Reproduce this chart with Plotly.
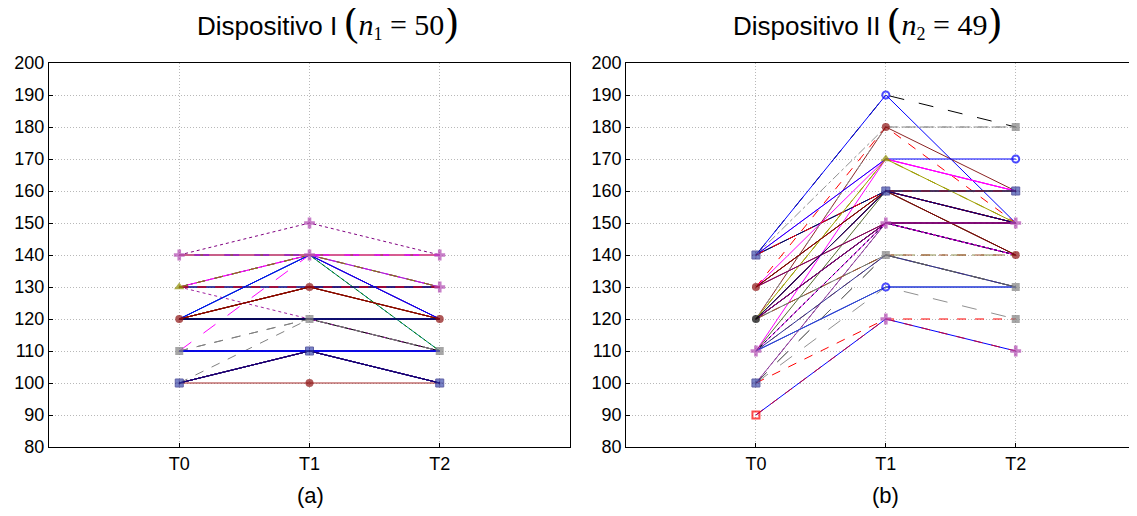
import plotly.graph_objects as go

# datos: categorias y valores de cada sujeto (T0, T1, T2)
categorias = ["T0", "T1", "T2"]

# Dispositivo I (n1 = 50)
izq_t0 = [100, 100, 100, 100, 100, 110, 110, 110, 110, 110,
          120, 120, 120, 120, 120, 120, 120, 130, 130, 130,
          130, 130, 130, 140, 140, 140, 140, 140, 100, 110,
          120, 120, 130, 140, 100, 110, 120, 130, 140, 120,
          110, 100, 120, 130, 140, 110, 120, 130, 140, 100]
izq_t1 = [100, 110, 110, 120, 110, 110, 110, 120, 140, 110,
          120, 120, 130, 140, 140, 120, 130, 130, 130, 140,
          140, 120, 140, 140, 150, 140, 140, 140, 110, 110,
          130, 120, 130, 140, 110, 110, 130, 140, 140, 140,
          120, 110, 120, 130, 140, 110, 130, 140, 140, 110]
izq_t2 = [100, 100, 100, 110, 110, 110, 110, 110, 130, 100,
          120, 120, 120, 120, 110, 110, 130, 130, 130, 140,
          130, 110, 110, 140, 140, 130, 140, 120, 100, 110,
          120, 120, 130, 140, 100, 110, 120, 140, 130, 120,
          110, 100, 120, 130, 140, 110, 120, 130, 140, 100]

# Dispositivo II (n2 = 49)
der_t0 = [140, 140, 140, 130, 120, 140, 140, 120, 110, 140,
          130, 120, 130, 120, 130, 120, 100, 110, 120, 120,
          110, 100, 110, 100, 100, 90, 90, 140, 120, 120,
          130, 120, 110, 100, 120, 130, 110, 120, 140, 120,
          130, 110, 100, 120, 110, 130, 120, 110, 120]
der_t1 = [190, 190, 180, 180, 180, 170, 170, 170, 170, 160,
          160, 160, 160, 160, 150, 150, 150, 150, 150, 140,
          140, 140, 130, 130, 120, 120, 120, 160, 140, 180,
          170, 160, 160, 150, 150, 160, 150, 140, 160, 170,
          150, 140, 140, 160, 150, 160, 150, 130, 160]
der_t2 = [180, 150, 180, 150, 160, 160, 170, 150, 160, 160,
          150, 140, 160, 150, 140, 150, 140, 150, 140, 140,
          130, 130, 130, 120, 120, 110, 110, 150, 130, 180,
          160, 150, 140, 140, 150, 160, 140, 140, 160, 150,
          150, 130, 130, 150, 140, 140, 150, 130, 160]

# estilos de linea (no son datos)
izq_color = ["#a52a2a", "#000080", "#0000ff", "#808080", "#8b0000", "#0000ff", "#808000", "#808080", "#ff00ff", "#000080",
             "#000000", "#0000ff", "#8b2500", "#0000ff", "#008080", "#000000", "#8b0000", "#ff0000", "#000080", "#ff00ff",
             "#808000", "#a020a0", "#008000", "#9932cc", "#800080", "#ff00ff", "#ff69b4", "#800080", "#0000ff", "#000080",
             "#8b2500", "#0000ff", "#000080", "#a020a0", "#000080", "#0000ff", "#8b2500", "#ff00ff", "#9932cc", "#0000ff",
             "#808080", "#a52a2a", "#000000", "#ff0000", "#808000", "#0000ff", "#8b0000", "#808000", "#ff69b4", "#000080"]
izq_dash = ["solid", "solid", "solid", "dash", "solid", "solid", "longdashdot", "dash", "longdash", "solid",
            "solid", "solid", "solid", "solid", "solid", "solid", "solid", "dash", "solid", "solid",
            "dash", "dot", "dot", "solid", "dot", "solid", "dash", "solid", "solid", "solid",
            "solid", "solid", "solid", "solid", "solid", "solid", "solid", "solid", "solid", "solid",
            "dash", "solid", "solid", "dash", "longdashdot", "solid", "solid", "dash", "longdash", "solid"]

der_color = ["#000000", "#0000ff", "#909090", "#ff0000", "#8b2323", "#ff00ff", "#0000ff", "#909000", "#ff00ff", "#000060",
             "#ff0000", "#a0104a", "#2e8b57", "#d00000", "#800030", "#800080", "#702070", "#702070", "#000000", "#909050",
             "#a0522d", "#909090", "#0000ff", "#909090", "#ff0000", "#0000ff", "#d00030", "#000060", "#707070", "#909090",
             "#ff00ff", "#b00000", "#556b2f", "#9040a0", "#600040", "#8b2323", "#ff00ff", "#a0522d", "#ff0000", "#a0a000",
             "#800060", "#303090", "#606060", "#000080", "#000040", "#800000", "#800080", "#3050c0", "#1a1a60"]
der_dash = ["longdash", "solid", "dashdot", "dash", "solid", "solid", "solid", "dash", "solid", "solid",
            "solid", "solid", "dashdot", "solid", "solid", "solid", "dot", "dot", "solid", "longdashdot",
            "dash", "longdash", "solid", "longdash", "dash", "solid", "dash", "solid", "solid", "dash",
            "solid", "solid", "solid", "solid", "solid", "solid", "solid", "dash", "dash", "solid",
            "solid", "solid", "longdash", "solid", "dot", "solid", "solid", "solid", "solid"]

# marcador visible en cada nivel de cada tiempo
izq_mk = [{140: "plus", 130: "tri", 120: "dred", 110: "gsq", 100: "sqx"},
          {150: "plus", 140: "plus", 130: "dred", 120: "gsq", 110: "sqx", 100: "dred"},
          {140: "plus", 130: "plus", 120: "dred", 110: "gsq", 100: "sqx"}]
der_mk = [{140: "sqx", 130: "dred", 120: "blk", 110: "plus", 100: "sqx", 90: "rsq"},
          {190: "bcirc", 180: "dred", 170: "tri", 160: "sqx", 150: "plus", 140: "gsq", 130: "bcirc", 120: "plus"},
          {180: "gsq", 170: "bcirc", 160: "sqx", 150: "plus", 140: "dred", 130: "gsq", 120: "gsq", 110: "plus"}]

MK = {
    "sqx": ("square-cross", "#4050b0", "#202080", 1, 8),
    "plus": ("cross", "#b048b0", "#b048b0", 0, 9),
    "dred": ("circle", "#8b1010", "#8b1010", 0, 8),
    "gsq": ("square", "#808080", "#808080", 0, 8),
    "tri": ("triangle-up", "#8b8b00", "#8b8b00", 0, 9),
    "bcirc": ("circle-open", "#0000ff", "#0000ff", 2, 7),
    "rsq": ("square-open", "#ff0000", "#ff0000", 2, 7),
    "blk": ("circle", "#000000", "#000000", 0, 8),
}

fig = go.Figure()


def panel(t0, t1, t2, colores, dashes, marcas, xa, ya):
    for i in range(len(t0)):
        fig.add_trace(go.Scatter(x=categorias, y=[t0[i], t1[i], t2[i]], mode="lines",
                                 line=dict(color=colores[i], dash=dashes[i], width=1),
                                 xaxis=xa, yaxis=ya, showlegend=False, hoverinfo="skip"))
    xs, ys, sym, col, lc, lw, sz = [], [], [], [], [], [], []
    for j, serie in enumerate([t0, t1, t2]):
        for v in sorted(set(serie)):
            s = MK[marcas[j][v]]
            xs.append(categorias[j]); ys.append(v)
            sym.append(s[0]); col.append(s[1]); lc.append(s[2]); lw.append(s[3]); sz.append(s[4])
    fig.add_trace(go.Scatter(x=xs, y=ys, mode="markers", xaxis=xa, yaxis=ya, showlegend=False,
                             marker=dict(symbol=sym, color=col, size=sz, line=dict(color=lc, width=lw))))


panel(izq_t0, izq_t1, izq_t2, izq_color, izq_dash, izq_mk, "x", "y")
panel(der_t0, der_t1, der_t2, der_color, der_dash, der_mk, "x2", "y2")

fuente = dict(family="Arial, Liberation Sans", size=18, color="black")
ejex = dict(type="category", categoryorder="array", categoryarray=categorias,
            showgrid=True, gridcolor="#b8b8b8", griddash="1px,2px", gridwidth=1,
            ticks="inside", ticklen=4, tickcolor="black", tickfont=fuente,
            showline=True, linecolor="black", linewidth=1, mirror=True, zeroline=False)
ejey = dict(range=[80, 200], dtick=10, showgrid=True, gridcolor="#b8b8b8", griddash="1px,2px", gridwidth=1,
            ticks="inside", ticklen=4, tickcolor="black", tickfont=fuente,
            showline=True, linecolor="black", linewidth=1, zeroline=False)

# la pagina tiene 8 px de margen en body: figura algo menor para que quepa
fig.update_layout(
    width=1121, height=500, plot_bgcolor="white", paper_bgcolor="white",
    margin=dict(l=41, r=0, t=55, b=61),
    xaxis=dict(ejex, domain=[0, 0.4824], range=[-1, 3]),
    yaxis=dict(ejey, mirror=True),
    xaxis2=dict(ejex, domain=[0.5343, 1], range=[-1, 2.872], anchor="y2"),
    yaxis2=dict(ejey, mirror=False, anchor="x2"),
)

serif = "font-family:Liberation Serif, Times New Roman"
par_a = "<span style='" + serif + ";font-size:42px'>(</span>"
par_c = "<span style='" + serif + ";font-size:42px'>)</span>"
titulos = [
    (0.2580, "Dispositivo I ", "1", "50"),
    (0.7580, "Dispositivo II ", "2", "49"),
]
for x, nombre, sub, n in titulos:
    txt = (nombre + par_a + "<span style='" + serif + ";font-size:30px'><i>n</i></span>"
           + "<sub><span style='" + serif + ";font-size:18px'>" + sub + "</span></sub>"
           + "<span style='" + serif + ";font-size:30px'> = " + n + "</span>" + par_c)
    fig.add_annotation(x=x, y=1.107, xref="paper", yref="paper", text=txt, showarrow=False,
                       xanchor="center", yanchor="middle",
                       font=dict(family="Arial, Liberation Sans", size=26, color="black"))
for x, txt in [(0.2417, "(a)"), (0.7741, "(b)")]:
    fig.add_annotation(x=x, y=-0.125, xref="paper", yref="paper", text=txt, showarrow=False,
                       xanchor="center", yanchor="middle",
                       font=dict(family="Arial, Liberation Sans", size=22, color="black"))

fig.write_html("out.html")
